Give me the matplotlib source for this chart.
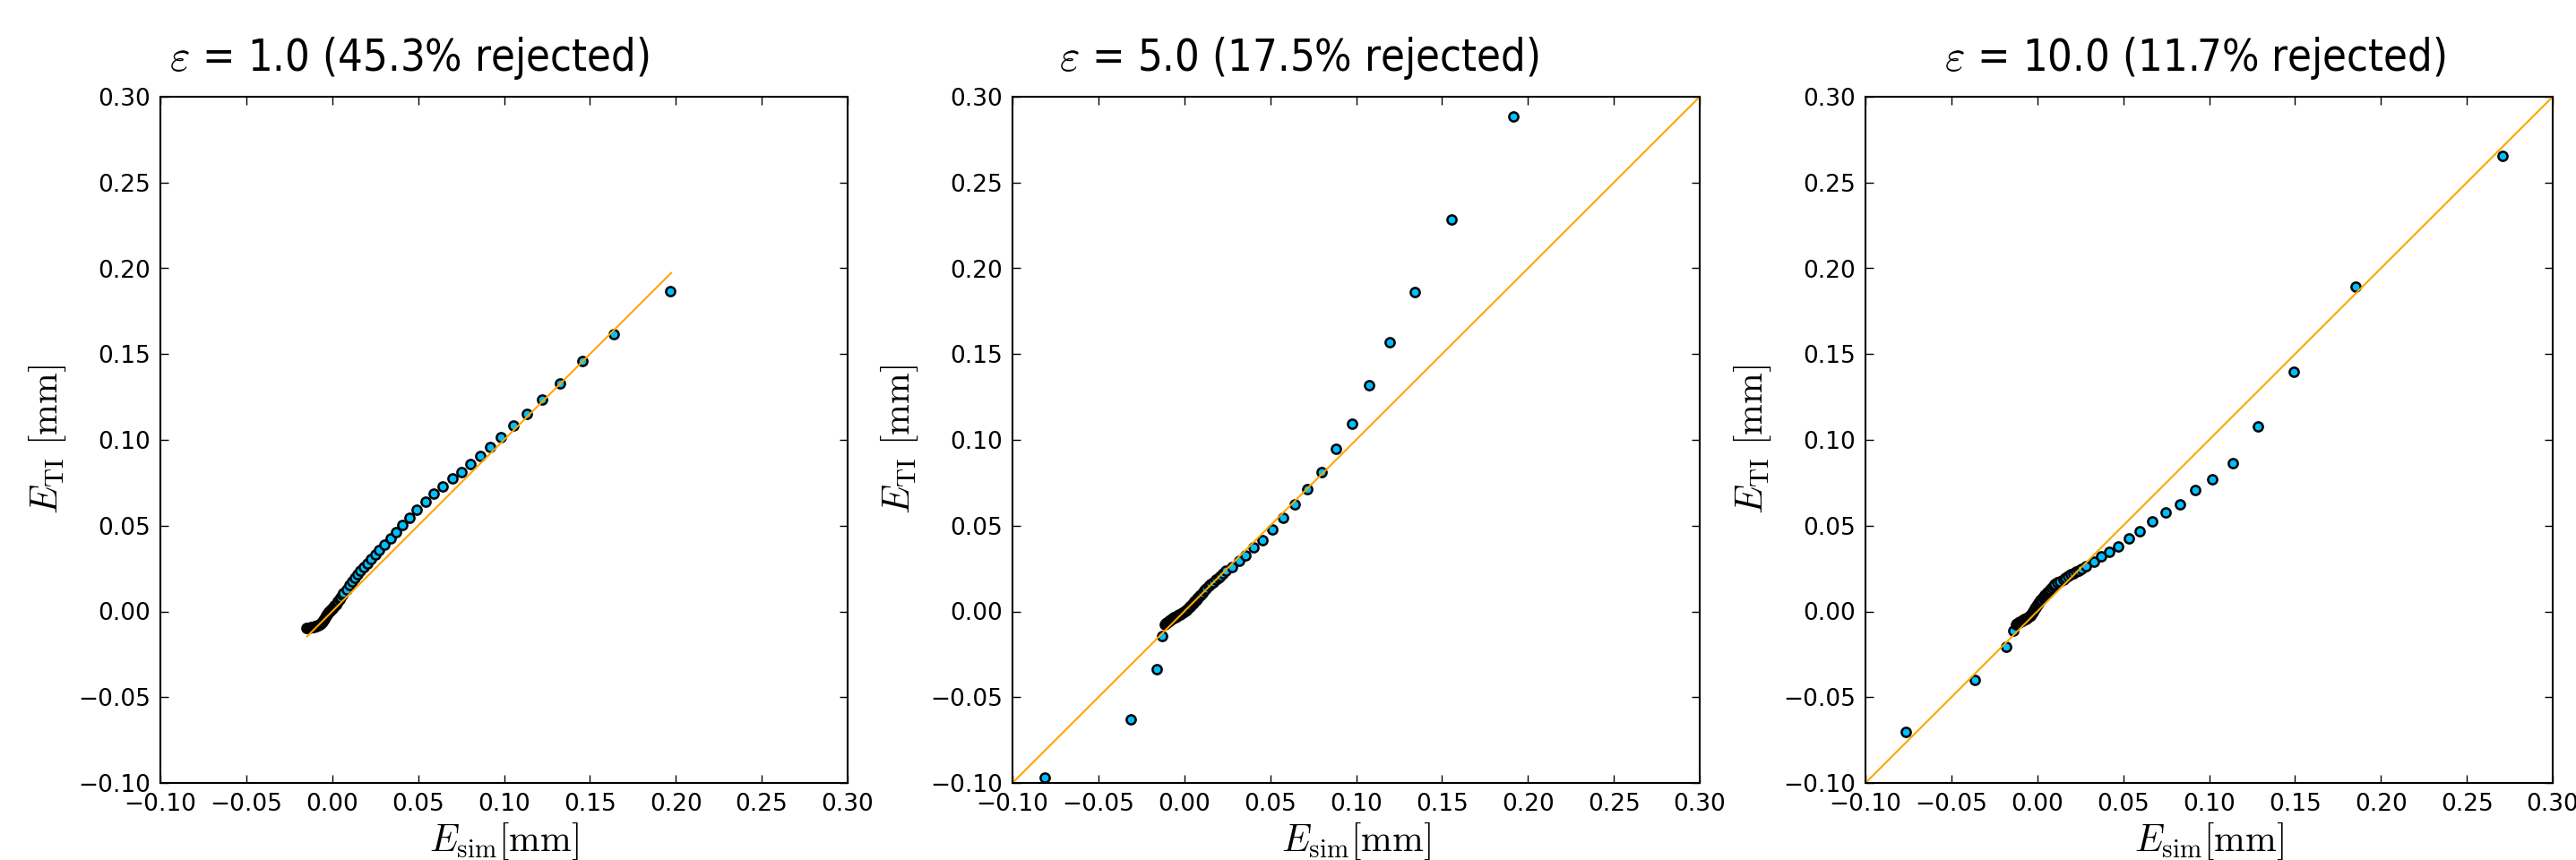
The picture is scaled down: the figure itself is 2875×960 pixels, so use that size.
import numpy as np
import matplotlib
matplotlib.use('Agg')
import matplotlib.pyplot as plt

plt.rcParams['font.family'] = ['DejaVu Sans']
plt.rcParams['mathtext.fontset'] = 'cm'

# values (sorted quantiles, mm)
eps = [1.0, 5.0, 10.0]
rejected = [45.3, 17.5, 11.7]
ticks = [-0.10, -0.05, 0.00, 0.05, 0.10, 0.15, 0.20, 0.25, 0.30]

p1_x = [-0.0152, -0.0143, -0.0134, -0.0125, -0.0117, -0.0109, -0.0101, -0.0094, -0.0087, -0.0080,
        -0.0074, -0.0068, -0.0062, -0.0057, -0.0052, -0.0047, -0.0042, -0.0037, -0.0032, -0.0027,
        -0.0022, -0.0016, -0.0010, -0.0004, 0.0002, 0.0008, 0.0014, 0.0020, 0.0027, 0.0034,
        0.0041, 0.0048, 0.0057, 0.0066, 0.0083, 0.0100, 0.0116, 0.0132, 0.0149, 0.0165,
        0.0184, 0.0205, 0.0226, 0.0250, 0.0274, 0.0305, 0.0340, 0.0373, 0.0408, 0.0448,
        0.0493, 0.0542, 0.0592, 0.0644, 0.0698, 0.0752, 0.0806, 0.0862, 0.0921, 0.0984,
        0.1053, 0.1135, 0.1222, 0.1326, 0.1456, 0.1639, 0.1970]
p1_y = [-0.0095, -0.0095, -0.0094, -0.0093, -0.0092, -0.0090, -0.0088, -0.0086, -0.0083, -0.0080,
        -0.0076, -0.0071, -0.0065, -0.0058, -0.0050, -0.0042, -0.0034, -0.0026, -0.0018, -0.0010,
        -0.0003, 0.0004, 0.0010, 0.0015, 0.0020, 0.0026, 0.0033, 0.0041, 0.0052, 0.0062,
        0.0072, 0.0083, 0.0095, 0.0107, 0.0130, 0.0152, 0.0173, 0.0194, 0.0215, 0.0236,
        0.0258, 0.0281, 0.0304, 0.0330, 0.0358, 0.0389, 0.0424, 0.0462, 0.0504, 0.0547,
        0.0593, 0.0640, 0.0687, 0.0730, 0.0775, 0.0814, 0.0859, 0.0908, 0.0960, 0.1016,
        0.1084, 0.1151, 0.1235, 0.1327, 0.1461, 0.1615, 0.1867]

p2_x = [-0.0810, -0.0311, -0.0160, -0.0127, -0.0115, -0.0108, -0.0101, -0.0094, -0.0087, -0.0080,
        -0.0073, -0.0066, -0.0059, -0.0052, -0.0045, -0.0038, -0.0031, -0.0024, -0.0017, -0.0010,
        -0.0003, 0.0004, 0.0011, 0.0018, 0.0025, 0.0032, 0.0039, 0.0046, 0.0053, 0.0060,
        0.0067, 0.0074, 0.0081, 0.0088, 0.0095, 0.0103, 0.0116, 0.0129, 0.0142, 0.0155,
        0.0170, 0.0184, 0.0198, 0.0212, 0.0226, 0.0241, 0.0276, 0.0317, 0.0358, 0.0403,
        0.0454, 0.0513, 0.0577, 0.0643, 0.0718, 0.0798, 0.0885, 0.0974, 0.1076, 0.1193,
        0.1344, 0.1553, 0.1916]
p2_y = [-0.0967, -0.0628, -0.0335, -0.0144, -0.0074, -0.0068, -0.0063, -0.0058, -0.0053, -0.0048,
        -0.0044, -0.0040, -0.0036, -0.0032, -0.0028, -0.0024, -0.0020, -0.0016, -0.0011, -0.0006,
        -0.0001, 0.0004, 0.0009, 0.0015, 0.0021, 0.0028, 0.0035, 0.0043, 0.0051, 0.0059,
        0.0067, 0.0075, 0.0083, 0.0091, 0.0099, 0.0109, 0.0122, 0.0135, 0.0148, 0.0161,
        0.0172, 0.0184, 0.0196, 0.0208, 0.0222, 0.0236, 0.0260, 0.0295, 0.0326, 0.0372,
        0.0417, 0.0476, 0.0547, 0.0622, 0.0713, 0.0814, 0.0946, 0.1093, 0.1320, 0.1569,
        0.1860, 0.2283, 0.2884]

p3_x = [-0.0764, -0.0362, -0.0180, -0.0141, -0.0124, -0.0117, -0.0110, -0.0103, -0.0096, -0.0089,
        -0.0082, -0.0075, -0.0068, -0.0061, -0.0054, -0.0047, -0.0041, -0.0035, -0.0030, -0.0025,
        -0.0020, -0.0015, -0.0010, -0.0005, 0.0000, 0.0006, 0.0012, 0.0018, 0.0024, 0.0031,
        0.0038, 0.0045, 0.0052, 0.0060, 0.0068, 0.0076, 0.0085, 0.0094, 0.0102, 0.0118,
        0.0134, 0.0150, 0.0165, 0.0179, 0.0193, 0.0210, 0.0227, 0.0243, 0.0259, 0.0285,
        0.0328, 0.0372, 0.0419, 0.0473, 0.0535, 0.0598, 0.0669, 0.0746, 0.0831, 0.0919,
        0.1020, 0.1138, 0.1286, 0.1493, 0.1855, 0.2708]
p3_y = [-0.0704, -0.0398, -0.0208, -0.0112, -0.0074, -0.0070, -0.0066, -0.0062, -0.0058, -0.0054,
        -0.0050, -0.0046, -0.0042, -0.0038, -0.0034, -0.0029, -0.0023, -0.0016, -0.0008, 0.0000,
        0.0009, 0.0017, 0.0025, 0.0033, 0.0041, 0.0049, 0.0057, 0.0064, 0.0072, 0.0080,
        0.0088, 0.0096, 0.0104, 0.0112, 0.0120, 0.0128, 0.0137, 0.0147, 0.0158, 0.0168,
        0.0177, 0.0187, 0.0196, 0.0206, 0.0215, 0.0223, 0.0231, 0.0239, 0.0246, 0.0265,
        0.0291, 0.0321, 0.0349, 0.0380, 0.0426, 0.0469, 0.0523, 0.0577, 0.0624, 0.0706,
        0.0770, 0.0866, 0.1080, 0.1398, 0.1895, 0.2654]

# ends of the orange reference line
line_ends = [[-0.0146, 0.1973], [-0.10, 0.30], [-0.10, 0.30]]

xs = [p1_x, p2_x, p3_x]
ys = [p1_y, p2_y, p3_y]

fig = plt.figure(figsize=(28.75, 9.6), dpi=100)
lefts = [179, 1130, 2082]
title_x = [0.362, 0.4166, 0.479]

for i in range(3):
    ax = fig.add_axes([lefts[i]/2875, 86/960, 767/2875, 766/960])
    ax.scatter(xs[i], ys[i], s=54, c='#00BFFF', edgecolors='black', linewidths=1.8, zorder=1)
    ax.plot(line_ends[i], line_ends[i], color='orange', lw=1.5, zorder=2)
    ax.set_xlim(-0.1, 0.3)
    ax.set_ylim(-0.1, 0.3)
    ax.set_xticks(ticks)
    ax.set_yticks(ticks)
    ax.set_xticklabels([f'{t:.2f}'.replace('-', '\u2212') for t in ticks])
    ax.set_yticklabels([f'{t:.2f}'.replace('-', '\u2212') for t in ticks])
    ax.tick_params(direction='in', top=True, right=True, length=6.5, width=1,
                   labelsize=19, pad=8)
    for sp in ax.spines.values():
        sp.set_linewidth(1.5)
    ax.set_xlabel(r'$E_\mathrm{sim}[\mathrm{mm}]$', fontsize=30, labelpad=4)
    ax.set_ylabel(r'$E_\mathrm{TI}\ [\mathrm{mm}]$', fontsize=30, labelpad=8)
    ax.set_title(rf'$\varepsilon$ = {eps[i]:.1f} ({rejected[i]:.1f}% rejected)',
                 fontsize=35, fontstretch='condensed', x=title_x[i], pad=21)

fig.savefig('out.png', dpi=100)
